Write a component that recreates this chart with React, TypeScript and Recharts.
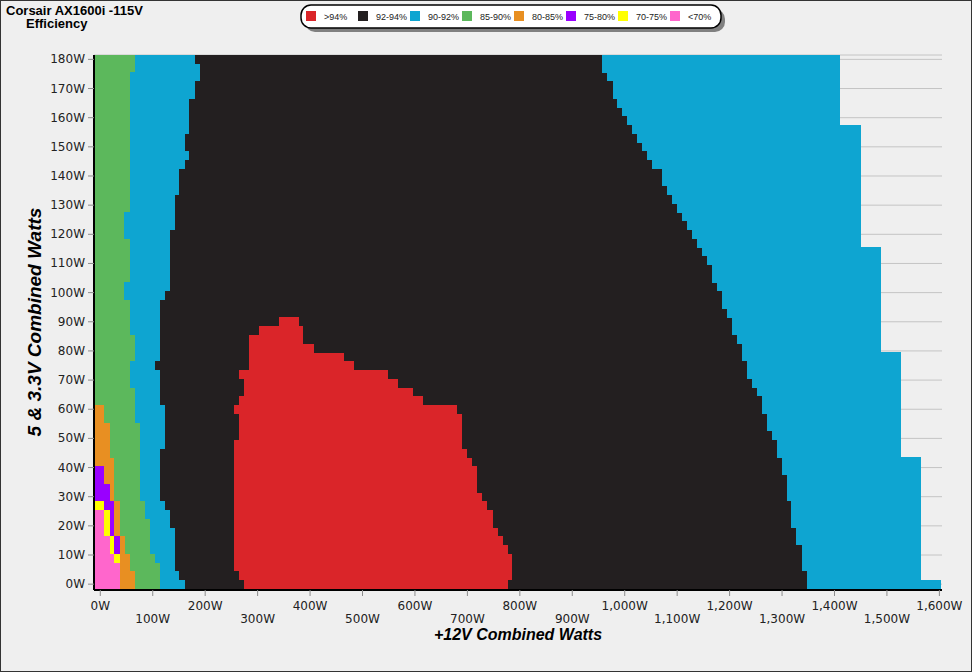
import React from 'react';
import { BarChart, Bar, XAxis, YAxis, CartesianGrid } from 'recharts';

// 5V & 3.3V combined load of each map row (W), bottom to top
const rowLoads = [
  0, 3, 6, 9, 12, 15, 18, 21, 24, 27,
  30, 33, 36, 39, 42, 45, 48, 51, 54, 57,
  60, 63, 66, 69, 72, 75, 78, 81, 84, 87,
  90, 93, 96, 99, 102, 105, 108, 111, 114, 117,
  120, 123, 126, 129, 132, 135, 138, 141, 144, 147,
  150, 153, 156, 159, 162, 165, 168, 171, 174, 177,
  180,
];

// +12V load where the map begins (W)
const mapStart = -10;

// low-load corner (rows 0W..63W): +12V load where each band ends
const pinkEnd = [37, 37, 37, 27, 18, 18, 8, 8, 8, -10, -10, -10, -10, -10, -10, -10, -10, -10, -10, -10, -10, -10];
const yellowEnd = [37, 37, 37, 37, 27, 27, 18, 18, 18, 8, -10, -10, -10, -10, -10, -10, -10, -10, -10, -10, -10, -10];
const purpleEnd = [37, 37, 37, 37, 37, 37, 27, 27, 27, 27, 18, 18, 8, 8, -10, -10, -10, -10, -10, -10, -10, -10];
const orangeEnd = [66, 66, 56, 56, 47, 47, 37, 37, 37, 37, 27, 27, 27, 27, 27, 18, 18, 18, 18, 8, 8, -10];

// every row: end of the 85-90% band, the 90-92% band, the 92-94% zone and the whole map
const greenEnd = [
  113, 113, 113, 104, 94, 94, 94, 94, 85, 85,
  75, 75, 75, 75, 75, 75, 75, 75, 75, 66,
  66, 66, 66, 56, 56, 56, 66, 66, 66, 56,
  56, 56, 56, 46, 46, 56, 56, 56, 56, 56,
  46, 46, 46, 56, 56, 56, 56, 56, 56, 56,
  56, 56, 56, 56, 56, 56, 56, 56, 56, 66,
  66,
];
const cyanEnd = [
  161, 151, 142, 142, 142, 142, 142, 132, 132, 123,
  113, 113, 113, 113, 113, 113, 123, 123, 123, 123,
  123, 113, 113, 113, 113, 104, 113, 113, 113, 113,
  113, 113, 113, 123, 132, 132, 132, 132, 132, 132,
  132, 142, 142, 142, 142, 151, 151, 151, 161, 170,
  161, 161, 170, 170, 170, 170, 180, 180, 190, 190,
  180,
];
const blackEnd = [
  1347, 1347, 1338, 1338, 1338, 1327, 1327, 1317, 1317, 1317,
  1310, 1310, 1310, 1300, 1300, 1291, 1291, 1281, 1271, 1271,
  1262, 1262, 1252, 1243, 1233, 1233, 1224, 1224, 1214, 1205,
  1205, 1195, 1186, 1186, 1176, 1167, 1167, 1157, 1148, 1138,
  1128, 1119, 1109, 1100, 1090, 1081, 1071, 1071, 1052, 1043,
  1033, 1023, 1014, 1004, 995, 985, 977, 977, 967, 957,
  957,
];
const mapEnd = [
  1603, 1565, 1565, 1565, 1565, 1565, 1565, 1565, 1565, 1565,
  1565, 1565, 1565, 1565, 1565, 1527, 1527, 1527, 1527, 1527,
  1527, 1527, 1527, 1527, 1527, 1527, 1527, 1489, 1489, 1489,
  1489, 1489, 1489, 1489, 1489, 1489, 1489, 1489, 1489, 1450,
  1450, 1450, 1450, 1450, 1450, 1450, 1450, 1450, 1450, 1450,
  1450, 1450, 1450, 1411, 1411, 1411, 1411, 1411, 1411, 1411,
  1411,
];

// >94% island (rows 0W..90W)
const redStart = [
  274, 264, 255, 255, 255, 255, 255, 255, 255, 255,
  255, 255, 255, 255, 255, 255, 255, 264, 264, 264,
  255, 264, 274, 274, 264, 283, 283, 283, 283, 302,
  340,
];
const redEnd = [
  777, 786, 786, 786, 777, 767, 758, 748, 748, 738,
  728, 719, 719, 719, 709, 700, 690, 690, 690, 690,
  681, 616, 597, 568, 549, 483, 464, 407, 387, 387,
  379,
];

const xTicks = [0, 100, 200, 300, 400, 500, 600, 700, 800, 900, 1000, 1100, 1200, 1300, 1400, 1500, 1600];
const yTicks = [0, 10, 20, 30, 40, 50, 60, 70, 80, 90, 100, 110, 120, 130, 140, 150, 160, 170, 180];
const xMinor = Array.from({ length: 65 }, (_, i) => i * 25).filter((v) => v % 100 !== 0);
const yMinor = Array.from({ length: 91 }, (_, i) => i * 2).filter((v) => v % 10 !== 0);

const colors = {
  red: '#da2529',
  black: '#231f20',
  cyan: '#0ea5d1',
  green: '#5cb85c',
  orange: '#e88f22',
  purple: '#9900ff',
  yellow: '#ffff00',
  pink: '#ff66cc',
};

const legendLabels = ['>94%', '92-94%', '90-92%', '85-90%', '80-85%', '75-80%', '70-75%', '<70%'];
const legendColors = [colors.red, colors.black, colors.cyan, colors.green, colors.orange, colors.purple, colors.yellow, colors.pink];

const data = rowLoads.map((w, i) => {
  const low = (arr: number[]) => (i < arr.length ? arr[i] : mapStart);
  const pink = low(pinkEnd);
  const yellow = low(yellowEnd);
  const purple = low(purpleEnd);
  const orange = low(orangeEnd);
  const green = greenEnd[i];
  const cyan = cyanEnd[i];
  const black = blackEnd[i];
  const rs = i < redStart.length ? redStart[i] : black;
  const re = i < redEnd.length ? redEnd[i] : black;
  return {
    w,
    pad: mapStart,
    pink: pink - mapStart,
    yellow: yellow - pink,
    purple: purple - yellow,
    orange: orange - purple,
    green: green - orange,
    cyan: cyan - green,
    blackLow: rs - cyan,
    red: re - rs,
    blackHigh: black - re,
    cyanHigh: mapEnd[i] - black,
  };
});

const stack = [
  { key: 'pad', fill: 'none' },
  { key: 'pink', fill: colors.pink },
  { key: 'yellow', fill: colors.yellow },
  { key: 'purple', fill: colors.purple },
  { key: 'orange', fill: colors.orange },
  { key: 'green', fill: colors.green },
  { key: 'cyan', fill: colors.cyan },
  { key: 'blackLow', fill: colors.black },
  { key: 'red', fill: colors.red },
  { key: 'blackHigh', fill: colors.black },
  { key: 'cyanHigh', fill: colors.cyan },
];

const tickFont = '"DejaVu Sans", Verdana, sans-serif';
const arial = 'Arial, "Liberation Sans", sans-serif';

const XTick = (props: any) => {
  const { x, y, payload } = props;
  const v = payload.value as number;
  const top = v % 200 === 0;
  return (
    <text x={x} y={y + (top ? 12 : 25)} textAnchor="middle" fontSize={12} fontFamily={tickFont} fill="#222">
      {v.toLocaleString('en-US')}W
    </text>
  );
};

const YTick = (props: any) => {
  const { x, y, payload } = props;
  return (
    <text x={x} y={y} dy={4} textAnchor="end" fontSize={12} fontFamily={tickFont} fill="#222">
      {payload.value}W
    </text>
  );
};

const NoTick = () => <g />;

export default function App() {
  return (
    <div style={{ position: 'absolute', left: 0, top: 0, width: 972, height: 672, background: '#efefef', overflow: 'hidden' }}>
      <BarChart
        width={972}
        height={672}
        data={data}
        layout="vertical"
        barCategoryGap={0}
        margin={{ top: 55, right: 30, bottom: 32, left: 0 }}
      >
        <CartesianGrid vertical={false} stroke="#c4c4c4" />
        <XAxis
          type="number"
          domain={[-12, 1605]}
          allowDataOverflow
          ticks={xTicks}
          interval={0}
          height={50}
          tickSize={6}
          tickLine={{ stroke: '#8c8c8c' }}
          axisLine={{ stroke: '#000', strokeWidth: 2 }}
          tick={XTick}
        />
        <XAxis
          xAxisId="minor"
          type="number"
          domain={[-12, 1605]}
          allowDataOverflow
          ticks={xMinor}
          interval={0}
          height={0}
          tickSize={3}
          tickLine={{ stroke: '#000' }}
          axisLine={false}
          tick={NoTick}
        />
        <YAxis
          type="number"
          dataKey="w"
          reversed
          domain={[-2, 181.5]}
          allowDataOverflow
          ticks={yTicks}
          interval={0}
          width={94}
          tickSize={6}
          tickMargin={3}
          tickLine={{ stroke: '#8c8c8c' }}
          axisLine={{ stroke: '#000', strokeWidth: 2 }}
          tick={YTick}
        />
        <YAxis
          yAxisId="minor"
          type="number"
          reversed
          domain={[-2, 181.5]}
          allowDataOverflow
          ticks={yMinor}
          interval={0}
          width={0}
          tickSize={3}
          tickLine={{ stroke: '#000' }}
          axisLine={false}
          tick={NoTick}
        />
        {stack.map((s) => (
          <Bar
            key={s.key}
            dataKey={s.key}
            stackId="map"
            fill={s.fill}
            isAnimationActive={false}
            shapeRendering="crispEdges"
          />
        ))}
      </BarChart>

      <svg width={972} height={672} style={{ position: 'absolute', left: 0, top: 0, pointerEvents: 'none' }}>
        <text x={6} y={14.5} fontSize={13} fontWeight="bold" fontFamily={arial} fill="#000">
          Corsair AX1600i -115V
        </text>
        <text x={26} y={28} fontSize={13} fontWeight="bold" fontFamily={arial} fill="#000">
          Efficiency
        </text>

        <rect x={305} y={9} width={420} height={23} rx={10} fill="#808080" />
        <rect x={301} y={5} width={420} height={23} rx={10} fill="#fff" stroke="#000" strokeWidth={1.5} />
        {legendLabels.map((label, i) => (
          <g key={label}>
            <rect x={306 + 52 * i} y={11} width={10} height={10} fill={legendColors[i]} />
            <text x={324 + 52 * i} y={19.5} fontSize={9} fontFamily={arial} fill="#222">
              {label}
            </text>
          </g>
        ))}

        <text x={518} y={640} textAnchor="middle" fontSize={16} fontWeight="bold" fontStyle="italic" fontFamily={arial} fill="#000">
          +12V Combined Watts
        </text>
        <text
          transform="translate(41,322) rotate(-90)"
          textAnchor="middle"
          fontSize={19}
          fontWeight="bold"
          fontStyle="italic"
          fontFamily={arial}
          fill="#000"
        >
          5 &amp; 3.3V Combined Watts
        </text>
      </svg>
      <div style={{ position: 'absolute', left: 0, top: 0, width: 972, height: 672, boxSizing: 'border-box', border: '1px solid #333', pointerEvents: 'none' }} />
    </div>
  );
}
